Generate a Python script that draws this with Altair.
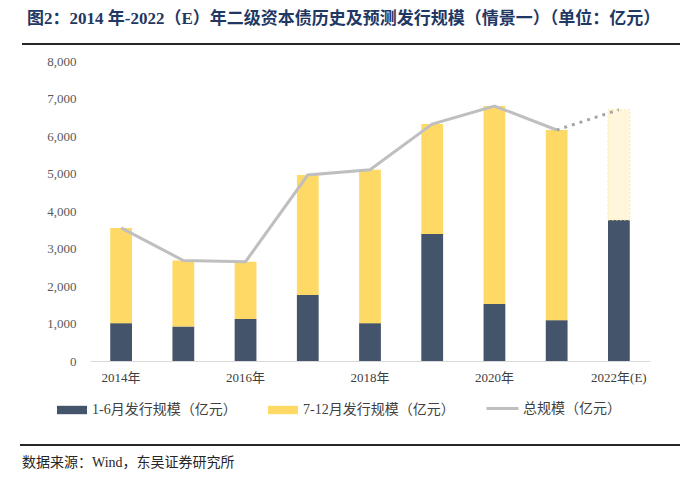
import altair as alt
import pandas as pd

years = ["2014年", "2015年", "2016年", "2017年", "2018年", "2019年", "2020年", "2021年", "2022年(E)"]
h1 = [1010, 920, 1120, 1760, 1010, 3390, 1520, 1090, 3760]
totals = [3550, 2680, 2650, 4960, 5100, 6320, 6800, 6160, 6700]
shown_years = ["2014年", "2016年", "2018年", "2020年", "2022年(E)"]
y_ticks = [0, 1000, 2000, 3000, 4000, 5000, 6000, 7000, 8000]

S1 = "1-6月发行规模（亿元）"
S2 = "7-12月发行规模（亿元）"
SL = "总规模（亿元）"

FONT = "Liberation Serif, Noto Sans CJK SC"

rows = []
for i, y in enumerate(years):
    rows.append({"year": y, "part": S1, "start": 0, "end": h1[i], "est": i == len(years) - 1})
    rows.append({"year": y, "part": S2, "start": h1[i], "end": totals[i], "est": i == len(years) - 1})
bars = pd.DataFrame(rows)
bars_main = bars[~((bars["est"]) & (bars["part"] == S2))]
bars_est = bars[(bars["est"]) & (bars["part"] == S2)]

line_solid = pd.DataFrame({"year": years[:-1], "start": totals[:-1], "series": SL})
line_dot = pd.DataFrame({"year": years[-2:], "start": totals[-2:]})

xscale = alt.Scale(domain=years, paddingInner=0.65, paddingOuter=0.325)
yscale = alt.Scale(domain=[0, 8000])

x_axis = alt.Axis(values=shown_years, labelAngle=0, ticks=False,
                  domainColor="#d9d9d9", labelFont=FONT, labelFontSize=13,
                  labelColor="#404040", labelPadding=10)
y_axis = alt.Axis(values=y_ticks, format=",.0f", grid=False, labelOverlap=False,
                  ticks=False, domain=False, labelFont=FONT, labelFontSize=13,
                  labelColor="#595959", labelPadding=14)


def xe():
    return alt.X("year:N", scale=xscale, sort=years, title=None, axis=x_axis)


def ye():
    return alt.Y("start:Q", scale=yscale, title=None, axis=y_axis)


bar_layer = alt.Chart(bars_main).mark_bar().encode(
    x=xe(),
    y=ye(),
    y2="end:Q",
    fill=alt.Fill("part:N", scale=alt.Scale(domain=[S1, S2], range=["#44546a", "#ffd966"]),
                  legend=alt.Legend(title=None, orient="none", legendX=-33, legendY=334,
                                    direction="horizontal", columns=2, columnPadding=31,
                                    symbolType="M-1,-0.28H1V0.28H-1Z", symbolSize=900,
                                    symbolStrokeWidth=0, labelFont=FONT, labelFontSize=14,
                                    labelColor="#404040", labelOffset=5, labelLimit=300)),
)

est_layer = alt.Chart(bars_est).mark_bar(
    fill="#fff6dc", stroke="#fbe7a6", strokeWidth=1, strokeDash=[2, 2]
).encode(x=xe(), y=ye(), y2="end:Q")

line_layer = alt.Chart(line_solid).mark_line(strokeWidth=3).encode(
    x=xe(),
    y=ye(),
    stroke=alt.Stroke("series:N", scale=alt.Scale(domain=[SL], range=["#bfbfbf"]),
                      legend=alt.Legend(title=None, orient="none", legendX=395, legendY=330,
                                        symbolType="stroke", symbolSize=1024, symbolStrokeWidth=3,
                                        labelFont=FONT, labelFontSize=14, labelColor="#404040",
                                        labelOffset=3, labelLimit=300)),
)

dot_layer = alt.Chart(line_dot).mark_line(strokeWidth=3, stroke="#a6a6a6", strokeDash=[3, 5]).encode(
    x=xe(), y=ye(),
)

deco = pd.DataFrame({"k": [0]})
top_rule = alt.Chart(deco).mark_rule(color="#262626", strokeWidth=2).encode(
    x=alt.value(-68), x2=alt.value(590), y=alt.value(-17))
bottom_rule = alt.Chart(deco).mark_rule(color="#262626", strokeWidth=2).encode(
    x=alt.value(-70), x2=alt.value(590), y=alt.value(384))
source = alt.Chart(deco).mark_text(
    text="数据来源：Wind，东吴证券研究所", align="left", baseline="middle",
    font=FONT, fontSize=14, color="#262626"
).encode(x=alt.value(-68), y=alt.value(402))

chart = alt.layer(bar_layer, est_layer, line_layer, dot_layer, top_rule, bottom_rule, source).properties(
    width=560, height=300,
    title=alt.Title("图2：2014 年-2022（E）年二级资本债历史及预测发行规模（情景一）（单位：亿元）",
                    anchor="start", frame="group", dx=-63, offset=15, font=FONT, fontSize=17,
                    fontWeight="bold", color="#1f3864"),
    autosize=alt.AutoSizeParams(type="none"),
    padding={"left": 82, "top": 53, "right": 30, "bottom": 115},
).configure_view(stroke=None)

chart.save("out.html", embed_options={"renderer": "svg", "actions": False})
